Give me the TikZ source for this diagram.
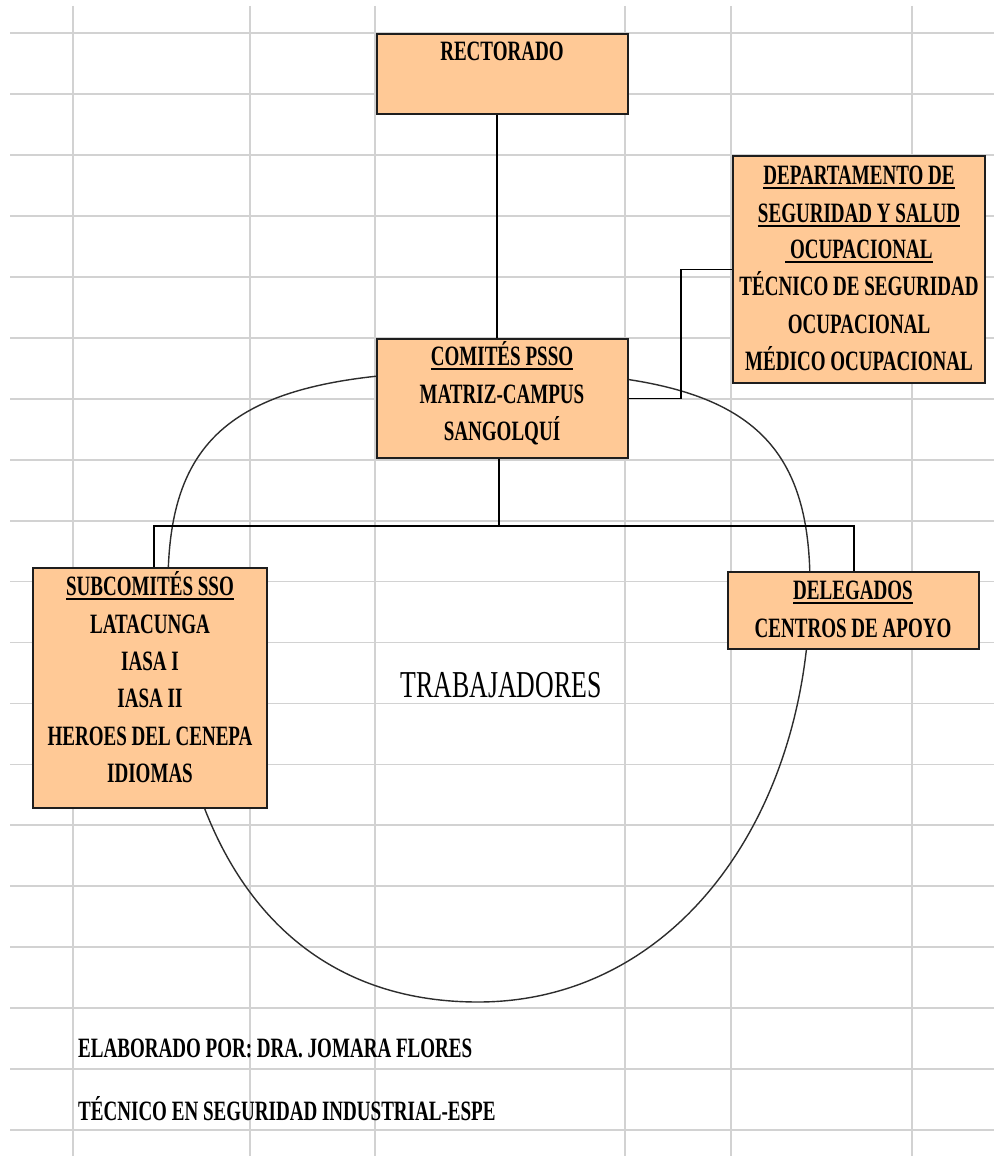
\documentclass[tikz,border=0pt]{standalone}
\usepackage{fontspec}
\usetikzlibrary{calc}
\newfontfamily\orgfont[FakeStretch=0.68]{Liberation Serif}
% underlined line of a box title
\newsavebox\ulbox
\newcommand\ulin[1]{\sbox\ulbox{#1}\rlap{\rule[-5pt]{\wd\ulbox}{1.8pt}}\usebox\ulbox}
\definecolor{gridgray}{RGB}{210,210,210}
\definecolor{boxfill}{RGB}{255,201,150}
\definecolor{boxline}{RGB}{30,30,30}
\definecolor{ringgray}{RGB}{45,45,45}
\tikzset{
  sheetline/.style={draw=gridgray, line width=1.8pt},
  orgbox/.style={rectangle, draw=boxline, fill=boxfill, line width=2pt, inner sep=0pt},
  orgtext/.style={font=\orgfont\bfseries\fontsize{28}{34}\selectfont, anchor=base, inner sep=0pt},
  bigtext/.style={font=\orgfont\fontsize{38}{44}\selectfont, anchor=base, inner sep=0pt},
  notetext/.style={font=\orgfont\bfseries\fontsize{28}{34}\selectfont, anchor=base west, inner sep=0pt},
  link/.style={draw=black, line width=1.7pt},
  ring/.style={draw=ringgray, line width=1.4pt},
}
\begin{document}
\begin{tikzpicture}[x=1pt, y=-1pt]
  % page
  \fill[white] (0,0) rectangle (994,1156);
  \useasboundingbox (0,0) rectangle (994,1156);

  % spreadsheet grid
  \foreach \gx in {73,250,375,625,731,912}
    \draw[sheetline] (\gx,6) -- (\gx,1156);
  \foreach \k in {0,...,18}
    \draw[sheetline] (10,{33+60.95*\k}) -- (994,{33+60.95*\k});

  % the ring of workers: flat on top, long at the bottom
  \draw[ring] (490,371)
    .. controls (730,371) and (810,423) .. (810,585)
    .. controls (810,814) and (677,1002) .. (478,1002)
    .. controls (270,1002) and (168,830) .. (168,585)
    .. controls (168,423) and (248,371) .. (490,371) -- cycle;

  % boxes
  \node[orgbox, minimum width=251pt, minimum height=80pt]  (rect) at (502.5,74)   {};
  \node[orgbox, minimum width=252pt, minimum height=227pt] (dep)  at (859,269.5)  {};
  \node[orgbox, minimum width=251pt, minimum height=119pt] (com)  at (502.5,398.5) {};
  \node[orgbox, minimum width=234pt, minimum height=240pt] (sub)  at (150,688)    {};
  \node[orgbox, minimum width=251pt, minimum height=77pt]  (del)  at (853.5,610.5) {};

  % connectors
  \coordinate (topx) at (497,0);
  \coordinate (busL) at (154,526);
  \coordinate (busM) at (499,526);
  \coordinate (busR) at (854,526);
  \draw[link] (topx |- rect.south) -- (topx |- com.north);
  \draw[link] (busM |- com.south) -- (busM);
  \draw[link] (busL |- sub.north) -- (busL) -- (busR) -- (busR |- del.north);
  \draw[link] (com.east) -- ++(52,0) |- (dep.west);

  % box texts
  \node[orgtext] (rectT) at (502,61) {RECTORADO};

  \node[orgtext] (dep1) at (859,184) {\ulin{DEPARTAMENTO DE}};
  \node[orgtext] (dep2) at (859,222) {\ulin{SEGURIDAD Y SALUD}};
  \node[orgtext] (dep3) at (859,258) {\ulin{\ OCUPACIONAL}};
  \node[orgtext] (dep4) at (859,295) {TÉCNICO DE SEGURIDAD};
  \node[orgtext] (dep5) at (859,333) {OCUPACIONAL};
  \node[orgtext] (dep6) at (859,370) {MÉDICO OCUPACIONAL};

  \node[orgtext] (com1) at (502,365) {\ulin{COMITÉS PSSO}};
  \node[orgtext] (com2) at (502,403) {MATRIZ-CAMPUS};
  \node[orgtext] (com3) at (502,440) {SANGOLQUÍ};

  \node[orgtext] (sub1) at (150,595) {\ulin{SUBCOMITÉS SSO}};
  \node[orgtext] (sub2) at (150,633) {LATACUNGA};
  \node[orgtext] (sub3) at (150,670) {IASA I};
  \node[orgtext] (sub4) at (150,707) {IASA II};
  \node[orgtext] (sub5) at (150,745) {HEROES DEL CENEPA};
  \node[orgtext] (sub6) at (150,782) {IDIOMAS};

  \node[orgtext] (del1) at (853,599) {\ulin{DELEGADOS}};
  \node[orgtext] (del2) at (853,637) {CENTROS DE APOYO};

  \node[bigtext] (trab) at (501,697) {TRABAJADORES};

  % credits
  \node[notetext] (note1) at (78,1057) {ELABORADO POR: DRA. JOMARA FLORES};
  \node[notetext] (note2) at (78,1120) {TÉCNICO EN SEGURIDAD INDUSTRIAL-ESPE};
\end{tikzpicture}
\end{document}
